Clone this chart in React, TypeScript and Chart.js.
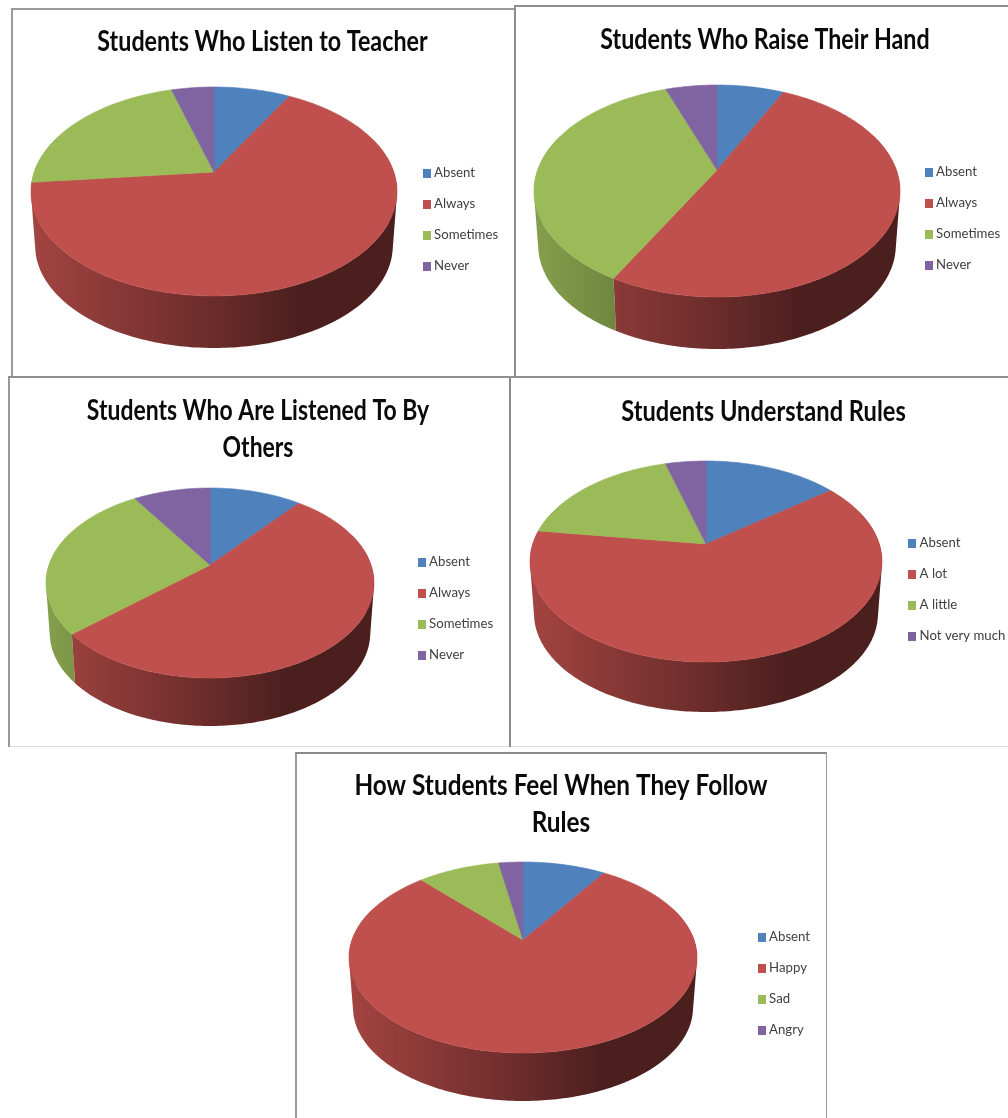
import React, { useEffect, useRef } from "react";
import { Chart, registerables } from "chart.js";

Chart.register(...registerables);

const COLORS = ["#4F81BD", "#C0504D", "#9BBB59", "#8064A2"];

const listenLabels = ["Absent", "Always", "Sometimes", "Never"];
const listenValues = [8.1, 65.3, 22.1, 4.5];
const raiseLabels = ["Absent", "Always", "Sometimes", "Never"];
const raiseValues = [7.2, 50.7, 36.6, 5.5];
const listenedLabels = ["Absent", "Always", "Sometimes", "Never"];
const listenedValues = [10.9, 52.6, 27.4, 9.1];
const rulesLabels = ["Absent", "A lot", "A little", "Not very much"];
const rulesValues = [14.6, 62.6, 18.4, 4.4];
const feelLabels = ["Absent", "Happy", "Sad", "Angry"];
const feelValues = [9.2, 79.0, 9.1, 2.7];

const TITLE_FONT = { family: "Lato", size: 28, weight: "bold" as const, lineHeight: 37 / 28 };
const LEGEND_FONT = { family: "Lato", size: 13.2 };
const LEGEND_STEP = 31;

// canvas box, 3D projection and legend placement of every panel (page coordinates)
const PANELS = [
  { title: ["Students Who Listen to Teacher"], labels: listenLabels, values: listenValues, squeeze: 0.832,
    box: [11, 8, 503, 369], titleY: 42, cx: 214, cy: 172, rx: 183, up: 85, down: 124, depth: 52, legendX: 422.5, legendY: 173 },
  { title: ["Students Who Raise Their Hand"], labels: raiseLabels, values: raiseValues, squeeze: 0.83,
    box: [515, 5, 500, 372], titleY: 40, cx: 717, cy: 170, rx: 183, up: 85, down: 127, depth: 52, legendX: 924.5, legendY: 172 },
  { title: ["Students Who Are Listened To By", "Others"], labels: listenedLabels, values: listenedValues, squeeze: 0.819,
    box: [8, 378, 500, 369], titleY: 411, cx: 210, cy: 565, rx: 164, up: 77, down: 113, depth: 48, legendX: 417.5, legendY: 562 },
  { title: ["Students Understand Rules"], labels: rulesLabels, values: rulesValues, squeeze: 0.844,
    box: [510, 378, 507, 369], titleY: 412, cx: 706, cy: 544, rx: 176, up: 83, down: 118, depth: 50, legendX: 908, legendY: 543 },
  { title: ["How Students Feel When They Follow", "Rules"], labels: feelLabels, values: feelValues, squeeze: 0.869,
    box: [295, 752, 532, 366], titleY: 786, cx: 523, cy: 940, rx: 174, up: 78, down: 113, depth: 48, legendX: 757.5, legendY: 937 },
];

// frame lines: left, top, width, height, colour
const FRAME_LINES: [number, number, number, number, string][] = [
  [8, 746, 1000, 1, "#dcdcdc"],
  [11, 8, 2, 369, "#9a9a9a"], [11, 8, 504, 2, "#9a9a9a"], [8, 376, 1000, 2, "#8e8e8e"], [514, 5, 2, 372, "#8e8e8e"], [514, 5, 494, 2, "#8e8e8e"],
  [8, 377, 2, 370, "#9a9a9a"], [509, 377, 2, 370, "#8e8e8e"],
  [295, 752, 2, 366, "#9a9a9a"], [295, 752, 532, 2, "#8a8a8a"], [826, 752, 1, 366, "#9a9a9a"],
];

const WALL_SHADES: [number, number][] = [[0, 0.85], [0.5, 0.55], [0.73, 0.39], [1, 0.39]];
const WALL_SHRINK = 0.977;

function shade(hex: string, m: number) {
  const n = parseInt(hex.slice(1), 16);
  return `rgb(${Math.round((n >> 16) * m)},${Math.round(((n >> 8) & 255) * m)},${Math.round((n & 255) * m)})`;
}

function swatch(color: string) {
  const c = document.createElement("canvas");
  c.width = 8;
  c.height = 9;
  const g = c.getContext("2d")!;
  g.fillStyle = color;
  g.fillRect(0, 0, 8, 9);
  return c;
}

const pie3d = {
  id: "pie3d",
  afterLayout(chart: any, _a: any, o: any) {
    const p = o.panel;
    const [bx, by] = p.box;
    const cx = p.cx - bx, cy = p.cy - by;
    chart.chartArea = { left: cx - p.rx, right: cx + p.rx, top: cy - p.rx, bottom: cy + p.rx, width: p.rx * 2, height: p.rx * 2 };
    const lg = chart.legend;
    const pad = lg.options.labels.padding;
    lg.left = p.legendX + 3 - bx - pad;
    lg.right = lg.left + 200;
    lg.top = p.legendY - by - LEGEND_FONT.size / 2 - pad;
    lg.bottom = chart.height;
    lg.height = lg.bottom - lg.top;
    const tb = chart.titleBlock;
    if (!tb._squeezed) {
      tb._squeezed = true;
      const draw = tb.draw.bind(tb);
      tb.draw = () => {
        const ctx = chart.ctx;
        const mid = chart.width / 2;
        ctx.save();
        ctx.translate(mid, 0);
        ctx.scale(p.squeeze, 1);
        ctx.translate(-mid, 0);
        draw(ctx);
        ctx.restore();
      };
    }
  },
  beforeDatasetDraw(chart: any, _a: any, o: any) {
    const p = o.panel;
    const ctx = chart.ctx;
    const arcs = chart.getDatasetMeta(0).data;
    const ratio = p.down / p.up;
    const k = (ratio - 1) / (ratio + 1);
    const sy = p.up * (1 + k);
    const project = (a: number, f: number, ox: number, oy: number, r: number) => {
      const w = 1 - k * Math.sin(a);
      const sx = r * Math.sqrt(1 - k * k);
      return [ox + (f * sx * Math.cos(a)) / w, oy + (f * sy * Math.sin(a)) / w];
    };
    ctx.save();
    // side wall: rear slices first, so the front slices cover them
    const ordered = [...arcs].sort(
      (a: any, b: any) => Math.sin((a.startAngle + a.endAngle) / 2) - Math.sin((b.startAngle + b.endAngle) / 2),
    );
    for (const arc of ordered) {
      const { x, y, startAngle, endAngle, outerRadius } = arc as any;
      const base = (arc as any).options.backgroundColor;
      const lowY = y + p.down + p.depth - WALL_SHRINK * p.down;
      const grad = ctx.createLinearGradient(x - outerRadius, 0, x + outerRadius, 0);
      WALL_SHADES.forEach(([s, m]) => grad.addColorStop(s, shade(base, m)));
      ctx.fillStyle = grad;
      const n = Math.max(2, Math.ceil((endAngle - startAngle) * 60));
      ctx.beginPath();
      for (let i = 0; i < n; i++) {
        const a0 = startAngle + ((endAngle - startAngle) * i) / n;
        const a1 = startAngle + ((endAngle - startAngle) * (i + 1)) / n;
        if (Math.sin(a0) < -0.35 && Math.sin(a1) < -0.35) continue;
        const q = [
          project(a0, 1, x, y, outerRadius),
          project(a1, 1, x, y, outerRadius),
          project(a1, WALL_SHRINK, x, lowY, outerRadius),
          project(a0, WALL_SHRINK, x, lowY, outerRadius),
        ];
        let area = 0;
        q.forEach((pt, j) => {
          const nx = q[(j + 1) % 4];
          area += pt[0] * nx[1] - nx[0] * pt[1];
        });
        if (area < 0) q.reverse();
        ctx.moveTo(q[0][0], q[0][1]);
        for (let j = 1; j < 4; j++) ctx.lineTo(q[j][0], q[j][1]);
        ctx.closePath();
      }
      ctx.fill();
    }
    // top surface
    for (const arc of arcs) {
      const { x, y, startAngle, endAngle, outerRadius } = arc;
      const n = Math.max(2, Math.ceil((endAngle - startAngle) * 60));
      ctx.beginPath();
      ctx.moveTo(x, y);
      for (let i = 0; i <= n; i++) {
        const [px, py] = project(startAngle + ((endAngle - startAngle) * i) / n, 1, x, y, outerRadius);
        ctx.lineTo(px, py);
      }
      ctx.closePath();
      ctx.fillStyle = arc.options.backgroundColor;
      ctx.strokeStyle = arc.options.backgroundColor;
      ctx.lineWidth = 0.6;
      ctx.fill();
      ctx.stroke();
    }
    ctx.restore();
    return false;
  },
};

function Panel({ panel }: { panel: (typeof PANELS)[number] }) {
  const ref = useRef<HTMLCanvasElement>(null);
  useEffect(() => {
    const lh = TITLE_FONT.lineHeight * TITLE_FONT.size;
    const chart = new Chart(ref.current!, {
      type: "pie",
      data: {
        labels: panel.labels,
        datasets: [{ data: panel.values, backgroundColor: COLORS, borderWidth: 0 }],
      },
      plugins: [pie3d],
      options: {
        animation: false,
        responsive: false,
        devicePixelRatio: 1,
        events: [],
        layout: { padding: 0 },
        plugins: {
          tooltip: { enabled: false },
          pie3d: { panel },
          title: {
            display: true,
            text: panel.title,
            color: "#0a0a0a",
            font: TITLE_FONT,
            padding: { top: panel.titleY - panel.box[1] - lh / 2, bottom: 0 },
          },
          legend: {
            display: true,
            position: "right",
            align: "start",
            labels: {
              color: "#404040",
              font: LEGEND_FONT,
              usePointStyle: true,
              pointStyleWidth: 2,
              boxHeight: 9,
              padding: LEGEND_STEP - LEGEND_FONT.size,
              generateLabels: (c: any) =>
                (Chart as any).overrides.doughnut.plugins.legend.labels
                  .generateLabels(c)
                  .map((l: any) => ({ ...l, pointStyle: swatch(l.fillStyle) })),
            },
          },
        },
      } as any,
    });
    return () => chart.destroy();
  }, []);
  const [x, y, w, h] = panel.box;
  return (
    <canvas
      ref={ref}
      width={w}
      height={h}
      style={{ position: "absolute", left: x, top: y, width: w, height: h, filter: "blur(0.5px)" }}
    />
  );
}

export default function App() {
  return (
    <div style={{ position: "absolute", left: 0, top: 0, width: 1008, height: 1118, overflow: "hidden", background: "#fff" }}>
      {PANELS.map((p, i) => (
        <Panel key={i} panel={p} />
      ))}
      {FRAME_LINES.map(([l, t, w, h, c], i) => (
        <div key={i} style={{ position: "absolute", left: l, top: t, width: w, height: h, background: c }} />
      ))}
    </div>
  );
}
